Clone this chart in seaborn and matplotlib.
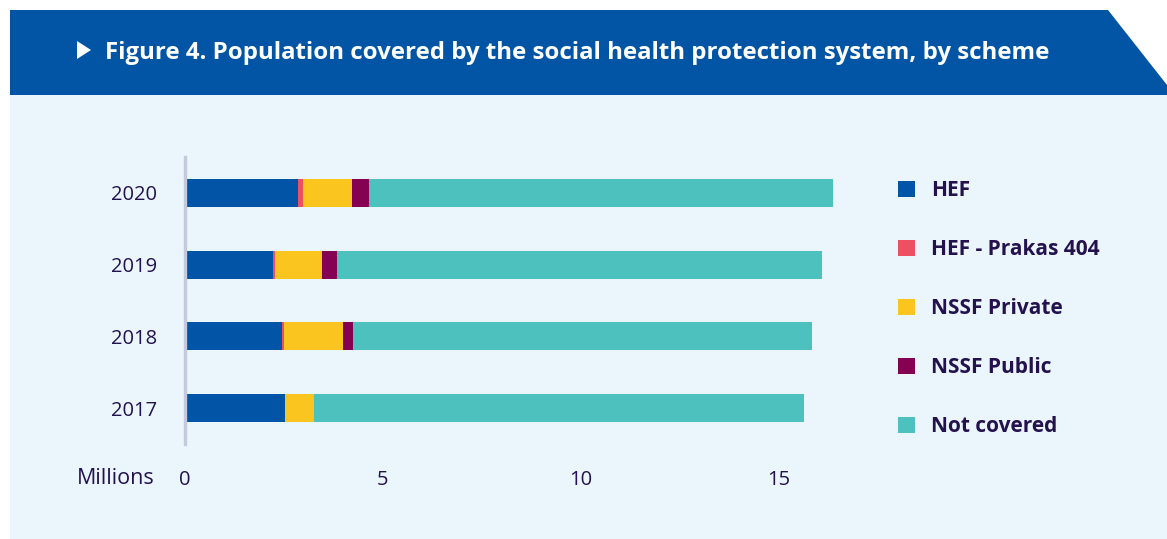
"""Population covered by the social health protection system, by scheme."""

import matplotlib.pyplot as plt
from matplotlib.patches import Polygon, Rectangle, Patch
import numpy as np
import pandas as pd
import seaborn as sns

# Data (millions of people)
years = ["2020", "2019", "2018", "2017"]
schemes = ["HEF", "HEF - Prakas 404", "NSSF Private", "NSSF Public", "Not covered"]
hef = [2.86, 2.23, 2.46, 2.53]
hef_prakas = [0.13, 0.05, 0.05, 0.0]
nssf_private = [1.22, 1.19, 1.49, 0.73]
nssf_public = [0.43, 0.38, 0.25, 0.0]
not_covered = [11.72, 12.25, 11.60, 12.38]

colors = ["#0254a6", "#ec5062", "#fbc520", "#850152", "#4cc1bd"]
TEXT = "#24124f"
PANEL = "#eaf5fc"
HEADER = "#0254a5"

df = pd.DataFrame(
    {
        "year": years,
        "HEF": hef,
        "HEF - Prakas 404": hef_prakas,
        "NSSF Private": nssf_private,
        "NSSF Public": nssf_public,
        "Not covered": not_covered,
    }
)
cum = df[schemes].cumsum(axis=1)

W, H = 1167, 539
sns.set_style("white")
plt.rcParams["font.family"] = ["Open Sans", "DejaVu Sans"]
fig = plt.figure(figsize=(W / 100, H / 100), dpi=100)
fig.patch.set_facecolor("white")


def px(x, y):
    """Pixel coords (top-left origin) -> figure fraction."""
    return x / W, 1 - y / H


# Background panel and header banner
fig.patches.append(
    Rectangle(px(10, 539), (W - 10) / W, (539 - 95) / H,
              transform=fig.transFigure, facecolor=PANEL, edgecolor="none", zorder=0)
)
fig.patches.append(
    Polygon([px(10, 10), px(1108, 10), px(1167, 85), px(1167, 95), px(10, 95)],
            closed=True, transform=fig.transFigure, facecolor=HEADER,
            edgecolor="none", zorder=0)
)
fig.patches.append(
    Polygon([px(77, 41), px(91, 50), px(77, 59)], closed=True,
            transform=fig.transFigure, facecolor="white", edgecolor="none", zorder=1)
)
fig.text(*px(105, 53), "Figure 4. Population covered by the social health protection system, by scheme",
         color="white", fontsize=17.3, fontweight="bold", ha="left", va="center")

# Chart axes
left, top = px(185, 157)
right, bottom = px(842, 444)
ax = fig.add_axes([left, bottom, right - left, top - bottom])
ax.set_facecolor("none")
ax.set_zorder(3)

# stacked bars: draw cumulative totals from largest to smallest
for name, col in reversed(list(zip(schemes, colors))):
    sns.barplot(x=cum[name], y=df["year"], order=years, orient="h",
                color=col, width=0.39, saturation=1, linewidth=0, ax=ax)

ax.set_xlim(0, 16.6)
ax.set_ylim(3.5, -0.5)
ax.set_xticks([0, 5, 10, 15])
ax.set_xlabel("")
ax.set_ylabel("")
for s in ["top", "right", "bottom"]:
    ax.spines[s].set_visible(False)
ax.spines["left"].set_color("#c5c9dc")
ax.spines["left"].set_linewidth(2.4)
ax.spines["left"].set_zorder(5)
ax.tick_params(axis="both", length=0, labelsize=14.5, labelcolor=TEXT)
ax.tick_params(axis="y", pad=20)
ax.tick_params(axis="x", pad=19)

fig.text(*px(155, 478), "Millions", color=TEXT, fontsize=15.5, ha="right", va="center")

# Legend
handles = [Patch(facecolor=c, edgecolor="none") for c in colors]
leg = fig.legend(handles, schemes, loc="upper left", bbox_to_anchor=px(898, 180),
                 frameon=False, fontsize=15, labelspacing=1.83,
                 handlelength=0.82, handleheight=0.82, handletextpad=0.78,
                 borderaxespad=0, borderpad=0)
for t in leg.get_texts():
    t.set_color(TEXT)
    t.set_fontweight("bold")

fig.savefig("out.png", dpi=100)
